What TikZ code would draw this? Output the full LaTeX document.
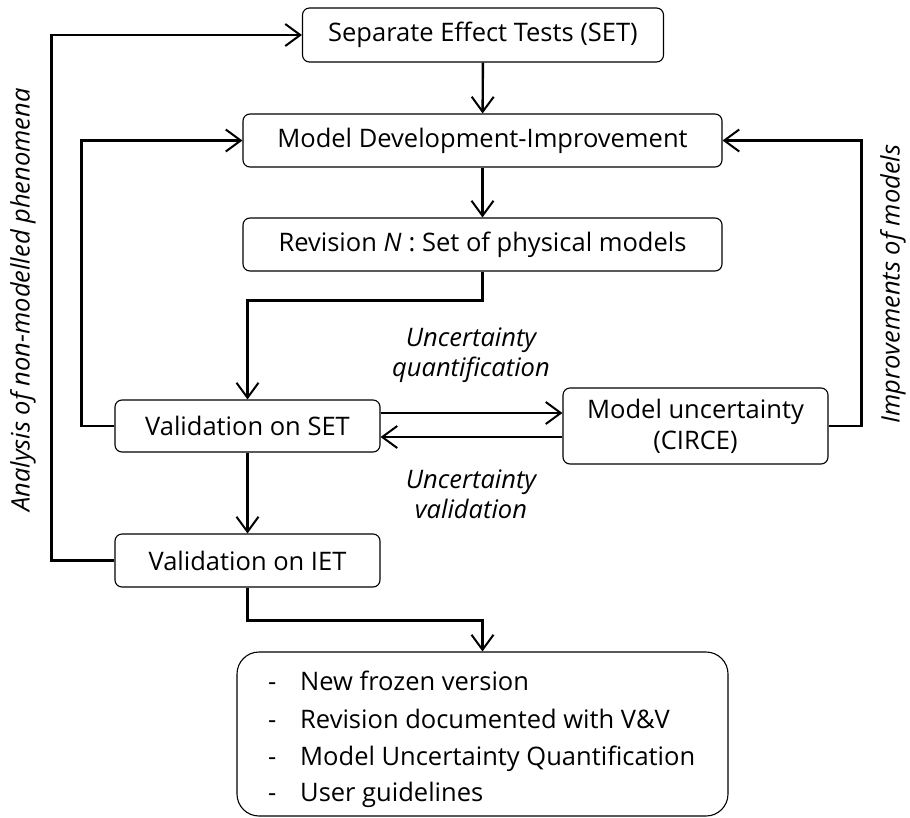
\documentclass[tikz,border=0pt]{standalone}
\usepackage{fontspec}
\setmainfont{Open Sans}
\usetikzlibrary{arrows.meta,calc}
\tikzset{
  box/.style={draw, line width=1.1pt, rounded corners=7pt, inner sep=0pt, align=center, font=\fontsize{25.5}{31}\selectfont},
  conn/.style={line width=2.4pt, -{Straight Barb[length=15pt,width=22pt,line width=2pt]}},
  lbl/.style={font=\fontsize{25.5}{30}\selectfont\itshape, align=center, inner sep=0pt},
  itemtxt/.style={font=\fontsize{25.5}{30}\selectfont, anchor=base west, inner sep=0pt}
}
\begin{document}
\begin{tikzpicture}[x=1pt,y=-1pt]
\useasboundingbox (0,0) rectangle (910,817);
\node[box, minimum width=361pt, minimum height=54pt] (set) at (483,35) {Separate Effect Tests (SET)};
\node[box, minimum width=479pt, minimum height=53pt] (dev) at (482.5,140.5) {Model Development-Improvement};
\node[box, minimum width=479pt, minimum height=53pt] (rev) at (482.5,244.5) {Revision \textit{N}\;: Set of physical models};
\node[box, minimum width=265pt, minimum height=52pt] (vset) at (247.5,426) {Validation on SET};
\node[box, minimum width=265pt, minimum height=53pt] (viet) at (247.5,560.5) {Validation on IET};
\node[box, minimum width=265pt, minimum height=76pt] (unc) at (695.5,426) {Model uncertainty\\(CIRCE)};
\node[draw, line width=1.1pt, rounded corners=22pt, minimum width=491pt, minimum height=164pt, inner sep=0pt] (fin) at (482.5,734) {};
\node[itemtxt] (d1) at (268,690) {-};
\node[itemtxt] (t1) at (300,690) {New frozen version};
\node[itemtxt] (d2) at (268,728) {-};
\node[itemtxt] (t2) at (300,728) {Revision documented with V\&V};
\node[itemtxt] (d3) at (268,765) {-};
\node[itemtxt] (t3) at (300,765) {Model Uncertainty Quantification};
\node[itemtxt] (d4) at (268,801) {-};
\node[itemtxt] (t4) at (300,801) {User guidelines};
\node[lbl] (uq) at (471,355) {Uncertainty\\quantification};
\node[lbl] (uv) at (471,494) {Uncertainty\\validation};
\node[lbl, rotate=90] (anl) at (23,300) {Analysis of non-modelled phenomena};
\node[lbl, rotate=90] (imp) at (893,284) {Improvements of models};
\draw[conn] (set) -- (dev);
\draw[conn] (dev) -- (rev);
\draw[conn] (rev.south) -- ++(0,29) -| (vset.north);
\draw[conn] ([yshift=13pt]vset.east) -- ([yshift=13pt]unc.west);
\draw[conn] ([yshift=-11pt]unc.west) -- ([yshift=-11pt]vset.east);
\draw[conn] (vset) -- (viet);
\draw[conn] (viet.south) -- ++(0,33) -| (fin.north);
\draw[conn] (vset.west) -- ++(-33,0) |- (dev.west);
\draw[conn] (viet.west) -- ++(-63,0) |- (set.west);
\draw[conn] (unc.east) -- ++(33,0) |- (dev.east);
\end{tikzpicture}
\end{document}
